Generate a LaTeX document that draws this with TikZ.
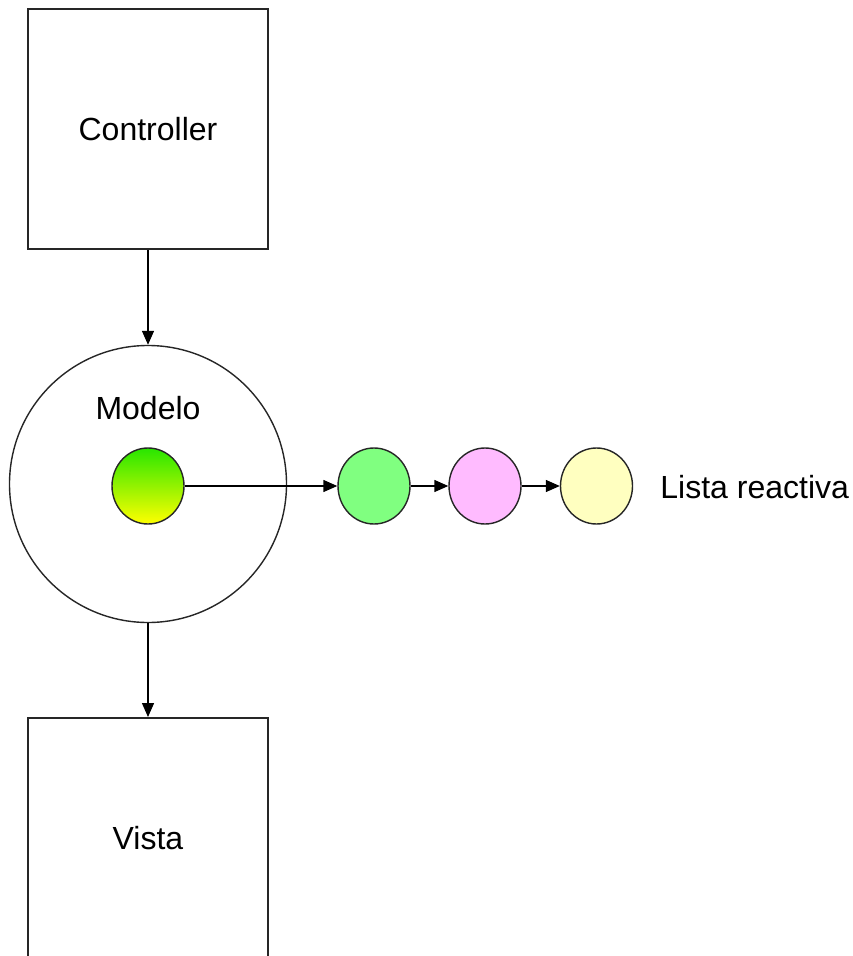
\documentclass[tikz,border=0pt]{standalone}
\usepackage{fontspec}
\setmainfont{Liberation Sans}
\usetikzlibrary{arrows.meta,shapes.geometric}
\definecolor{lgreen}{RGB}{128,255,128}
\definecolor{lpink}{RGB}{255,187,255}
\definecolor{lyellow}{RGB}{255,255,192}
\definecolor{gtop}{RGB}{40,230,0}
\definecolor{gbot}{RGB}{255,255,0}
\begin{document}
\begin{tikzpicture}[x=0.5pt,y=-0.5pt,
  box/.style={draw=black!85,line width=1pt,minimum width=120pt,minimum height=120pt,inner sep=0pt,font=\fontsize{16}{19}\selectfont},
  item/.style={draw=black!85,line width=0.7pt,ellipse,minimum width=36pt,minimum height=38pt,inner sep=0pt},
  link/.style={line width=0.7pt,-{Triangle[length=7pt,width=6pt]}},
  lbl/.style={font=\fontsize{16}{19}\selectfont,inner sep=0pt}]
\useasboundingbox (0,0) rectangle (852,956);
\begin{scope}
\clip (0,0) rectangle (852,956);
\node[box] (ctrl) at (148,129.5) {Controller};
\node[box] (vista) at (148,838) {};
\end{scope}
\node[lbl] at (148,838) {Vista};
\node[draw=black!85,line width=0.7pt,circle,minimum size=138.5pt,inner sep=0pt] (modelo) at (148,484) {};
\node[lbl] (mlabel) at (148,408) {Modelo};
\node[item,top color=gtop,bottom color=gbot] (src) at (148,486) {};
\node[item,fill=lgreen] (a) at (374,486) {};
\node[item,fill=lpink] (b) at (485,486) {};
\node[item,fill=lyellow] (c) at (596.5,486) {};
\node[lbl,anchor=west] (lista) at (660,487) {Lista reactiva};
\draw[link] (ctrl.south) -- (modelo.north);
\draw[link] (modelo.south) -- (vista.north);
\draw[link] (src.east) -- (a.west);
\draw[link] (a.east) -- (b.west);
\draw[link] (b.east) -- (c.west);
\end{tikzpicture}
\end{document}
